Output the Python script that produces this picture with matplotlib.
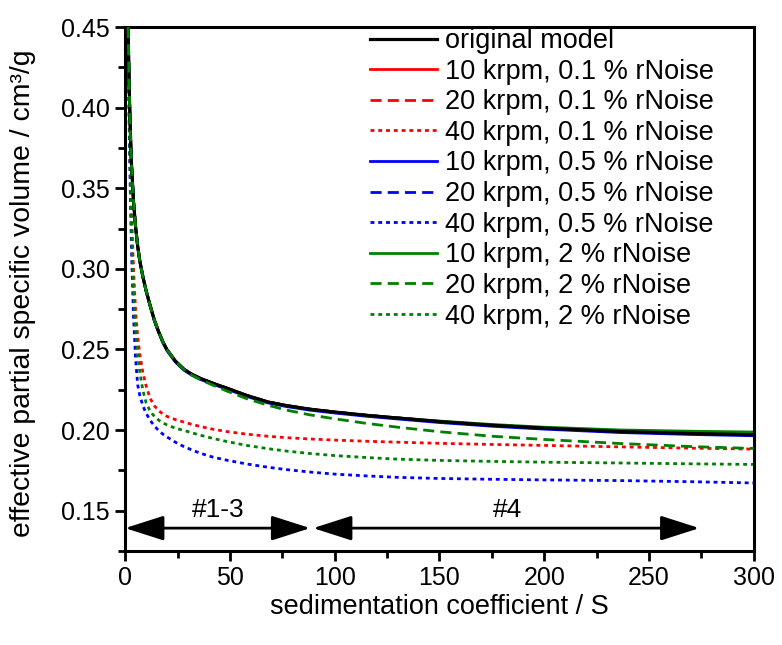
import numpy as np
import matplotlib
matplotlib.use('Agg')
import matplotlib.pyplot as plt

plt.rcParams['font.family'] = ['Liberation Sans', 'DejaVu Sans']

# sedimentation coefficient grid (S)
s = [1.4, 2, 2.5, 3, 4, 5, 6, 7, 8.5, 10, 12, 14, 16, 18, 20, 24, 28, 32, 36, 42, 49,
     58, 68, 77, 88, 100, 115, 130, 150, 175, 200, 236, 270, 300]

# effective partial specific volume (cm3/g)
orig = [0.45, 0.41, 0.385, 0.366, 0.342, 0.326, 0.314, 0.305, 0.295, 0.2865, 0.277, 0.268,
        0.261, 0.2548, 0.2498, 0.2428, 0.2378, 0.2345, 0.2320, 0.2290, 0.2258, 0.2215,
        0.2175, 0.2152, 0.2130, 0.2112, 0.2092, 0.2075, 0.2053, 0.2030, 0.2012, 0.1991,
        0.1979, 0.1971]
r10 = orig
r20 = orig
r40 = [0.45, 0.395, 0.362, 0.337, 0.300, 0.274, 0.258, 0.247, 0.2355, 0.2275, 0.2195, 0.2150,
       0.2120, 0.2100, 0.2085, 0.2065, 0.2050, 0.2035, 0.2022, 0.2005, 0.1990, 0.1975,
       0.1962, 0.1953, 0.1945, 0.1938, 0.1931, 0.1925, 0.1918, 0.1911, 0.1905, 0.1896,
       0.1888, 0.1882]
b10 = [0.45, 0.41, 0.385, 0.366, 0.342, 0.326, 0.314, 0.305, 0.295, 0.2865, 0.2767, 0.2676,
       0.2605, 0.2542, 0.2492, 0.2422, 0.2372, 0.2339, 0.2314, 0.2284, 0.2252, 0.2209,
       0.2169, 0.2146, 0.2124, 0.2106, 0.2086, 0.2069, 0.2047, 0.2024, 0.2006, 0.1985,
       0.1973, 0.1965]
b20 = orig
b40 = [0.45, 0.385, 0.345, 0.313, 0.270, 0.244, 0.228, 0.2215, 0.2150, 0.2105, 0.2060, 0.2025,
       0.1997, 0.1975, 0.1957, 0.1925, 0.1898, 0.1876, 0.1856, 0.1832, 0.1812, 0.1790,
       0.1770, 0.1755, 0.1740, 0.1727, 0.1716, 0.1707, 0.1700, 0.1695, 0.1691, 0.1687,
       0.1680, 0.1672]
g10 = [0.45, 0.41, 0.385, 0.366, 0.342, 0.326, 0.314, 0.305, 0.295, 0.2865, 0.277, 0.268,
       0.261, 0.2548, 0.2498, 0.2428, 0.2378, 0.2345, 0.2320, 0.2290, 0.2258, 0.2215,
       0.2175, 0.2152, 0.2130, 0.2112, 0.2092, 0.2076, 0.2056, 0.2035, 0.2018, 0.2001,
       0.1993, 0.1988]
g20 = [0.45, 0.41, 0.385, 0.366, 0.342, 0.326, 0.314, 0.305, 0.295, 0.2865, 0.277, 0.268,
       0.261, 0.2548, 0.2498, 0.2428, 0.2376, 0.2340, 0.2312, 0.2278, 0.2240, 0.2195,
       0.2155, 0.2124, 0.2095, 0.2070, 0.2042, 0.2018, 0.1990, 0.1962, 0.1942, 0.1917,
       0.1898, 0.1886]
g40 = [0.45, 0.39, 0.355, 0.328, 0.288, 0.263, 0.247, 0.236, 0.2245, 0.2170, 0.2115, 0.2085,
       0.2062, 0.2045, 0.2032, 0.2012, 0.1998, 0.1983, 0.1968, 0.1948, 0.1928, 0.1905,
       0.1885, 0.1870, 0.1855, 0.1842, 0.1830, 0.1820, 0.1812, 0.1806, 0.1801, 0.1796,
       0.1791, 0.1787]

labels = ['original model',
          '10 krpm, 0.1 % rNoise', '20 krpm, 0.1 % rNoise', '40 krpm, 0.1 % rNoise',
          '10 krpm, 0.5 % rNoise', '20 krpm, 0.5 % rNoise', '40 krpm, 0.5 % rNoise',
          '10 krpm, 2 % rNoise', '20 krpm, 2 % rNoise', '40 krpm, 2 % rNoise']

fig = plt.figure(figsize=(7.82, 6.45), dpi=100)
ax = fig.add_axes([0.160, 0.1457, 0.804, 0.8124])

lw = 2.0
dash = (4, 2.2)
dot = (1.4, 1.4)

series = [(r10, 'red', None), (r20, 'red', dash), (r40, 'red', dot),
          (b10, 'blue', None), (b20, 'blue', dash), (b40, 'blue', dot),
          (g10, 'green', None), (g20, 'green', dash), (g40, 'green', dot)]

handles = {}
for i, (y, c, d) in enumerate(series):
    ln, = ax.plot(s, y, color=c, lw=lw, zorder=2)
    if d is not None:
        ln.set_dashes(d)
    handles[i + 1] = ln
handles[8].set_zorder(3)
ln0, = ax.plot(s, orig, color='black', lw=2.3, zorder=2.5)
handles[0] = ln0

ax.legend([handles[i] for i in range(10)], labels, loc='upper left',
          bbox_to_anchor=(0.389, 0.998), frameon=False, fontsize=19.5,
          handlelength=2.47, handletextpad=0.3, labelspacing=0.17,
          borderpad=0.0, borderaxespad=0)

# region arrows
arr = dict(arrowstyle='<|-|>,head_length=1.0,head_width=0.32', color='black',
           lw=2, shrinkA=0, shrinkB=0, mutation_scale=24)
ax.annotate('', xy=(0, 0.1392), xytext=(88.3, 0.1392), arrowprops=arr)
ax.annotate('', xy=(89.7, 0.1392), xytext=(274, 0.1392), arrowprops=arr)
ax.text(44.6, 0.1506, '#1-3', ha='center', va='center', fontsize=19)
ax.text(182.5, 0.1503, '#4', ha='center', va='center', fontsize=19)

ax.set_xlim(0, 300)
ax.set_ylim(0.125, 0.45)
ax.set_xticks(np.arange(0, 301, 50))
ax.set_xticks(np.arange(25, 300, 50), minor=True)
ax.set_yticks(np.arange(0.15, 0.451, 0.05))
ax.set_yticks(np.arange(0.125, 0.45, 0.05), minor=True)
ax.set_yticklabels(['%.2f' % v for v in np.arange(0.15, 0.451, 0.05)])
ax.tick_params(which='major', length=7, width=2, labelsize=18, pad=4)
ax.tick_params(which='minor', length=5, width=2)
for sp in ax.spines.values():
    sp.set_linewidth(2.2)

ax.set_xlabel('sedimentation coefficient / S', fontsize=19.5)
ax.set_ylabel('effective partial specific volume / cm³/g', fontsize=20.4)
ax.xaxis.set_label_coords(0.5, -0.082)
ax.yaxis.set_label_coords(-0.142, 0.492)

fig.savefig('out.png', dpi=100)
